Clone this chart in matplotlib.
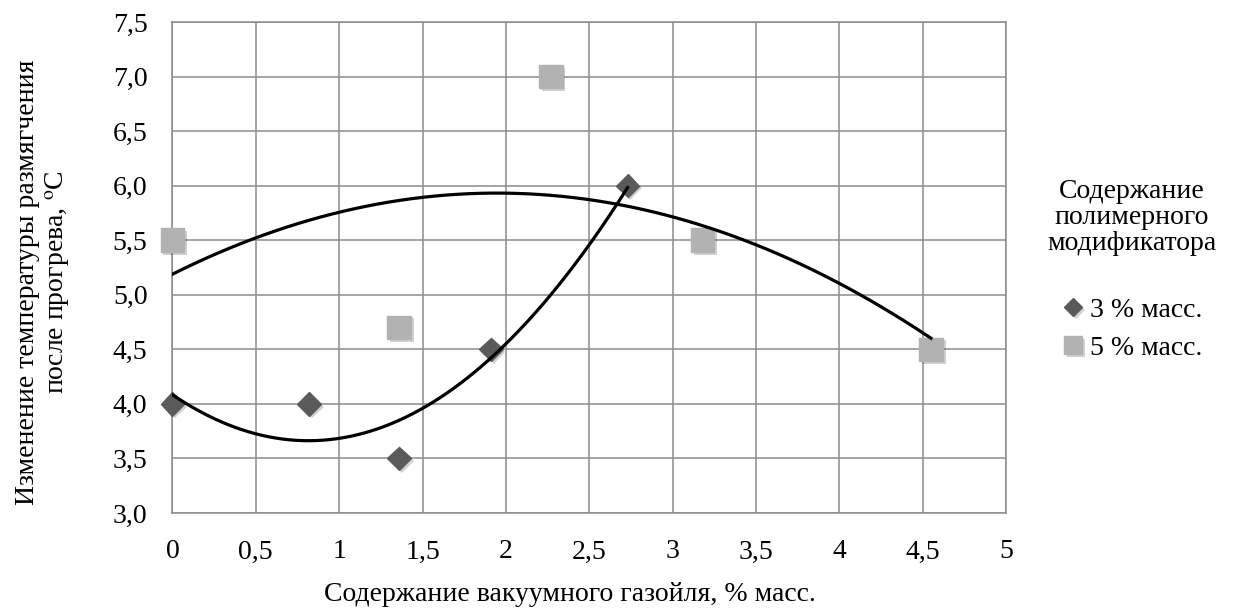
import matplotlib
matplotlib.use("Agg")
import matplotlib.pyplot as plt
import matplotlib.patheffects as pe
import numpy as np
from matplotlib.ticker import FuncFormatter, MultipleLocator

# data
x_3 = [0.0, 0.82, 1.36, 1.91, 2.73]
y_3 = [4.0, 4.0, 3.5, 4.5, 6.0]
x_5 = [0.0, 1.36, 2.27, 3.18, 4.55]
y_5 = [5.5, 4.7, 7.0, 5.5, 4.5]
labels = ["3 % масс.", "5 % масс."]

plt.rcParams["font.family"] = ["Liberation Serif", "DejaVu Serif"]
plt.rcParams["mathtext.fontset"] = "stix"
FS = 20

fig = plt.figure(figsize=(12.37, 6.13), dpi=100)
ax = fig.add_axes([0.1394, 0.1631, 0.6739, 0.801])

grid_col = "#8c8c8c"
shadow = [pe.SimplePatchShadow(offset=(2, -2), shadow_rgbFace="#000000", alpha=0.18), pe.Normal()]


def _trend(xs, ys):
    # second-order polynomial trendline, like the spreadsheet one
    coef = np.polyfit(xs, ys, 2)
    xx = np.linspace(min(xs), max(xs), 200)
    return xx, np.polyval(coef, xx)


ax.plot(*_trend(x_3, y_3), color="black", linewidth=2.3, zorder=4)
ax.plot(*_trend(x_5, y_5), color="black", linewidth=2.3, zorder=4)

ax.plot(x_3, y_3, linestyle="none", marker="D", markersize=12, color="#5a5a5a",
        label=labels[0], zorder=3, path_effects=shadow, clip_on=False)
ax.plot(x_5, y_5, linestyle="none", marker="s", markersize=17, color="#b2b2b2",
        label=labels[1], zorder=3, path_effects=shadow, clip_on=False)

ax.set_xlim(0, 5)
ax.set_ylim(3.0, 7.5)
ax.xaxis.set_major_locator(MultipleLocator(0.5))
ax.yaxis.set_major_locator(MultipleLocator(0.5))
ax.xaxis.set_major_formatter(FuncFormatter(lambda v, p: f"{v:g}".replace(".", ",")))
ax.yaxis.set_major_formatter(FuncFormatter(lambda v, p: f"{v:.1f}".replace(".", ",")))
ax.tick_params(length=0, labelsize=FS)
ax.tick_params(axis="x", pad=19)
ax.tick_params(axis="y", pad=18)
ax.grid(color=grid_col, linewidth=1.1)
for s in ax.spines.values():
    s.set_color(grid_col)
    s.set_linewidth(1.1)
ax.set_axisbelow(True)

ax.set_xlabel("Содержание вакуумного газойля, % масс.", fontsize=FS)
ax.xaxis.set_label_coords(0.477, -0.1405)
ax.set_ylabel("Изменение температуры размягчения\nпосле прогрева, $^{\\mathrm{o}}$C",
              fontsize=FS, linespacing=1.15)
ax.yaxis.set_label_coords(-0.1206, 0.47)

leg = fig.legend(loc="center", bbox_to_anchor=(0.915, 0.56), frameon=False, fontsize=FS,
                 title="Содержание\nполимерного\nмодификатора", title_fontsize=FS,
                 handletextpad=0.2, handlelength=0.8, markerscale=0.75, labelspacing=0.45)
leg.get_title().set_multialignment("center")
leg.get_title().set_linespacing(1.05)
leg._legend_box.sep = 30

fig.savefig("out.png", dpi=100)
